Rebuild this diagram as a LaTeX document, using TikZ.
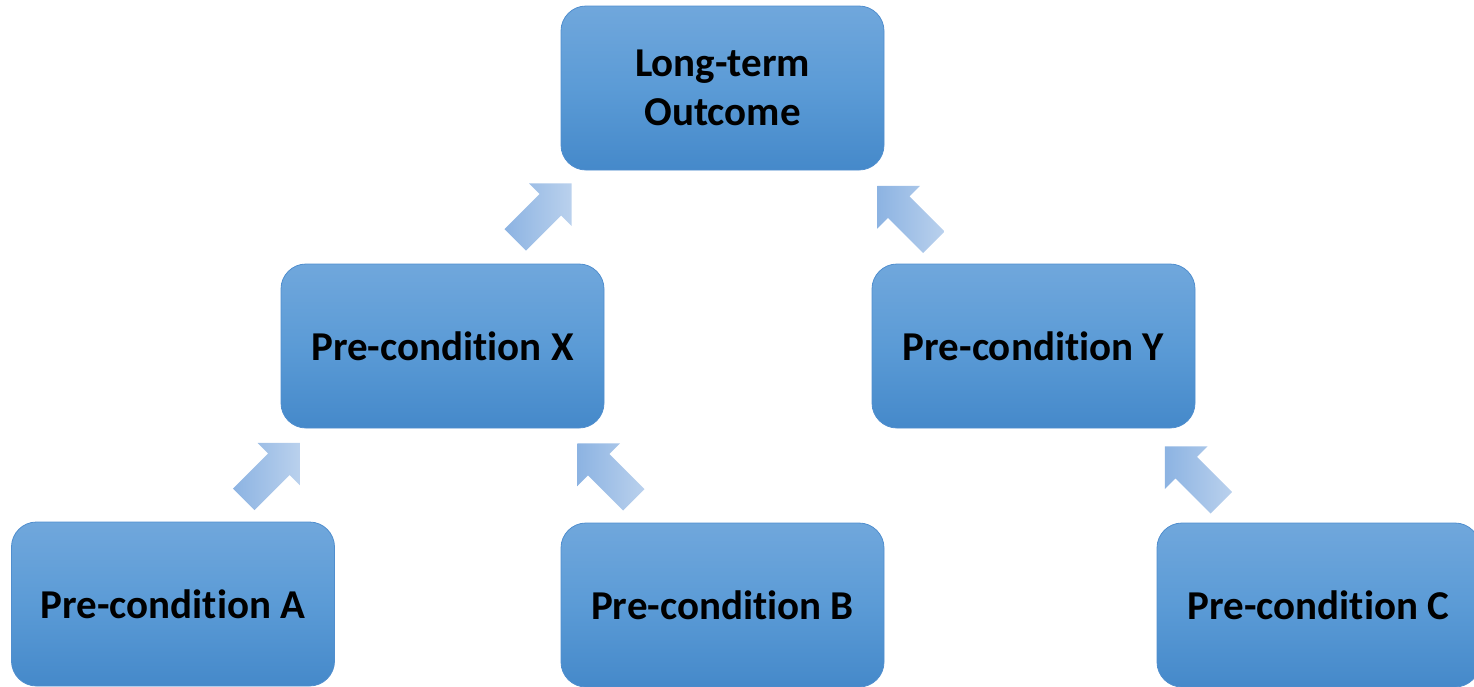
\documentclass[tikz,border=0pt]{standalone}
\usepackage{fontspec}
\setmainfont{Carlito}[Ligatures={NoCommon}]
\usetikzlibrary{shapes.arrows}
\definecolor{boxtop}{RGB}{112,167,220}
\definecolor{boxmid}{RGB}{91,155,214}
\definecolor{boxbot}{RGB}{69,137,202}
\definecolor{boxline}{RGB}{80,142,206}
\definecolor{arrtail}{RGB}{140,179,226}
\definecolor{arrtip}{RGB}{186,209,237}
\tikzset{
  box/.style={rectangle, rounded corners=25pt, minimum width=323pt, minimum height=164pt,
    top color=boxtop, bottom color=boxbot, middle color=boxmid, draw=boxline, line width=0.8pt,
    align=center, font=\fontsize{41}{49}\selectfont\bfseries, text=black, inner sep=0pt},
  blockarr/.style={single arrow, draw=none, inner sep=0pt, text height=15pt, text depth=15pt,
    text width=0pt, single arrow head extend=15pt, single arrow tip angle=90,
    minimum height=80pt, left color=arrtail, right color=arrtip, anchor=tail}
}
\begin{document}
\begin{tikzpicture}[x=1pt,y=-1pt]
\useasboundingbox (0,0) rectangle (1474,686);
\node[box] (O) at (722.5,88) {Long-term\\Outcome};
\node[box] (X) at (442.5,346) {Pre-condition X};
\node[box] (Y) at (1033.5,346) {Pre-condition Y};
\node[box] (A) at (173,604) {Pre-condition A};
\node[box] (B) at (722.5,605) {Pre-condition B};
\node[box] (C) at (1318.5,605) {Pre-condition C};
\coordinate (tXO) at (515,240);
\coordinate (tYO) at (934,242.5);
\coordinate (tAX) at (243.5,499.5);
\coordinate (tBX) at (634,500);
\coordinate (tCY) at (1221.5,503);
\node[blockarr, rotate=45] (aXO) at (tXO) {};
\node[blockarr, rotate=135] (aYO) at (tYO) {};
\node[blockarr, rotate=45] (aAX) at (tAX) {};
\node[blockarr, rotate=135] (aBX) at (tBX) {};
\node[blockarr, rotate=135] (aCY) at (tCY) {};
\end{tikzpicture}
\end{document}
